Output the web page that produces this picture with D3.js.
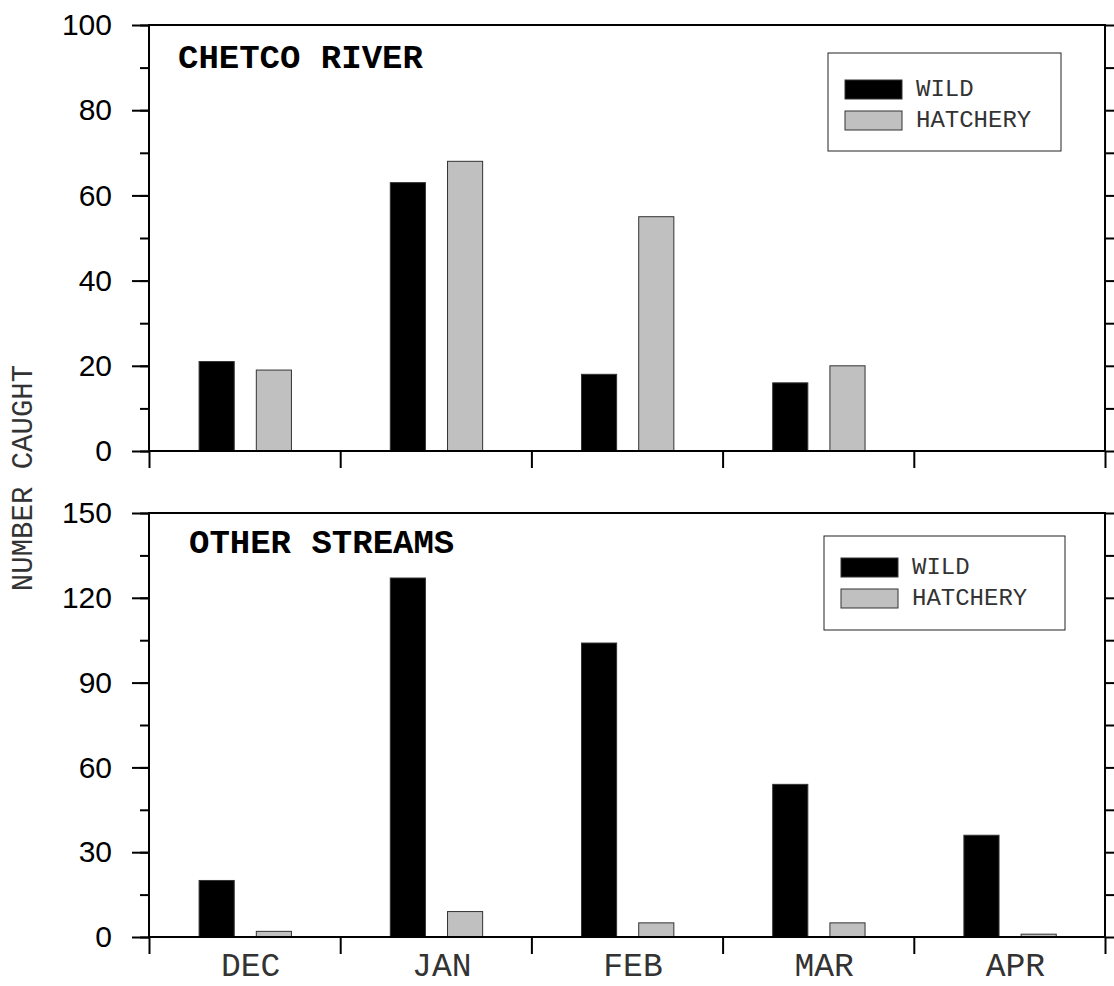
<!DOCTYPE html>
<html>
<head>
<meta charset="utf-8">
<script src="https://cdn.jsdelivr.net/npm/d3@7/dist/d3.min.js"></script>
<style>
  html, body { margin: 0; padding: 0; background: #fff; }
  svg { display: block; }
</style>
</head>
<body>
<svg id="chart" width="1114" height="986"></svg>
<script>
// data
const months = ["DEC", "JAN", "FEB", "MAR", "APR"];
const series = ["WILD", "HATCHERY"];
const chetcoWild = [21, 63, 18, 16, null];
const chetcoHatchery = [19, 68, 55, 20, null];
const otherWild = [20, 127, 104, 54, 36];
const otherHatchery = [2, 9, 5, 5, 1];

const MONO = "'Courier New', 'Liberation Mono', monospace";
const SANS = "Arial, 'Liberation Sans', sans-serif";
const fills = { WILD: "#000", HATCHERY: "#c0c0c0" };

const svg = d3.select("#chart");
const left = 149, right = 1105;

const x = d3.scaleBand().domain(months).range([left, right]).padding(0);
const bw = x.bandwidth();
const xs = d3.scaleBand().domain(series)
  .range([bw * 0.262, bw * 0.745]).paddingInner(0.386);
// boundaries between months for the bottom ticks
const xEdge = d3.scaleLinear().domain([0, months.length]).range([left, right]);

const panels = [
  { title: "CHETCO RIVER", top: 25, bottom: 451, max: 100, major: 20, minor: 10,
    values: [chetcoWild, chetcoHatchery], titleX: 178, titleY: 68,
    legend: { x: 828, y: 53, w: 233, h: 98 } },
  { title: "OTHER STREAMS", top: 513, bottom: 937, max: 150, major: 30, minor: 15,
    values: [otherWild, otherHatchery], titleX: 189, titleY: 553,
    legend: { x: 824, y: 536, w: 241, h: 94 } }
];

panels.forEach((p, pi) => {
  const y = d3.scaleLinear().domain([0, p.max]).range([p.bottom, p.top]);
  const g = svg.append("g");

  // bars
  series.forEach((s, si) => {
    const rows = months.map((m, i) => ({ m, v: p.values[si][i] })).filter(d => d.v != null);
    g.selectAll(null).data(rows).enter().append("rect")
      .attr("x", d => x(d.m) + xs(s))
      .attr("y", d => y(d.v))
      .attr("width", xs.bandwidth())
      .attr("height", d => y(0) - y(d.v))
      .attr("fill", fills[s])
      .attr("stroke", "#333")
      .attr("stroke-width", 1);
  });

  // left axis: minor then major ticks
  const minorTicks = d3.range(0, p.max + 0.1, p.minor);
  const majorTicks = d3.range(0, p.max + 0.1, p.major);
  g.append("g").attr("transform", `translate(${left},0)`)
    .call(d3.axisLeft(y).tickValues(minorTicks).tickSize(9).tickFormat(""))
    .call(a => a.select(".domain").remove());
  const la = g.append("g").attr("transform", `translate(${left},0)`)
    .call(d3.axisLeft(y).tickValues(majorTicks).tickSize(17).tickPadding(20).tickFormat(d3.format("d")));
  la.select(".domain").remove();
  la.selectAll("text").attr("font-family", SANS).attr("font-size", 30).attr("fill", "#000");

  // right axis ticks outward
  g.append("g").attr("transform", `translate(${right},0)`)
    .call(d3.axisRight(y).tickValues(minorTicks).tickSize(10).tickFormat(""))
    .call(a => a.select(".domain").remove());

  // bottom ticks at month boundaries
  g.append("g").attr("transform", `translate(0,${p.bottom})`)
    .call(d3.axisBottom(xEdge).tickValues(d3.range(0, months.length + 1)).tickSize(17).tickFormat(""))
    .call(a => a.select(".domain").remove());

  g.selectAll(".tick line").attr("stroke", "#000").attr("stroke-width", 2);

  // frame
  g.append("path")
    .attr("d", `M${left},${p.top}H${right}V${p.bottom}H${left}Z`)
    .attr("fill", "none").attr("stroke", "#000").attr("stroke-width", 2);

  // panel title
  g.append("text")
    .attr("x", p.titleX).attr("y", p.titleY)
    .attr("font-family", MONO).attr("font-weight", "bold").attr("font-size", 34)
    .text(p.title);

  // legend
  const L = p.legend;
  const lg = g.append("g").attr("transform", `translate(${L.x},${L.y})`);
  lg.append("rect").attr("width", L.w).attr("height", L.h)
    .attr("fill", "#fff").attr("stroke", "#222").attr("stroke-width", 1);
  series.forEach((s, si) => {
    const ry = (pi === 0 ? 27 : 22) + si * 31;
    lg.append("rect").attr("x", 17).attr("y", ry).attr("width", 57).attr("height", 19)
      .attr("fill", fills[s]).attr("stroke", "#333").attr("stroke-width", 1);
    lg.append("text").attr("x", 88).attr("y", ry + 16)
      .attr("font-family", MONO).attr("font-size", 24).attr("fill", "#333")
      .text(s);
  });
});

// month labels under the bottom panel
svg.append("g").selectAll("text").data(months).enter().append("text")
  .attr("x", d => x(d) + bw / 2 + 6)
  .attr("y", 976)
  .attr("text-anchor", "middle")
  .attr("font-family", MONO).attr("font-size", 33).attr("fill", "#333")
  .text(d => d);

// y axis title
svg.append("text")
  .attr("transform", "translate(32,478) rotate(-90)")
  .attr("text-anchor", "middle")
  .attr("font-family", MONO).attr("font-size", 29).attr("fill", "#333")
  .text("NUMBER CAUGHT");
</script>
</body>
</html>
